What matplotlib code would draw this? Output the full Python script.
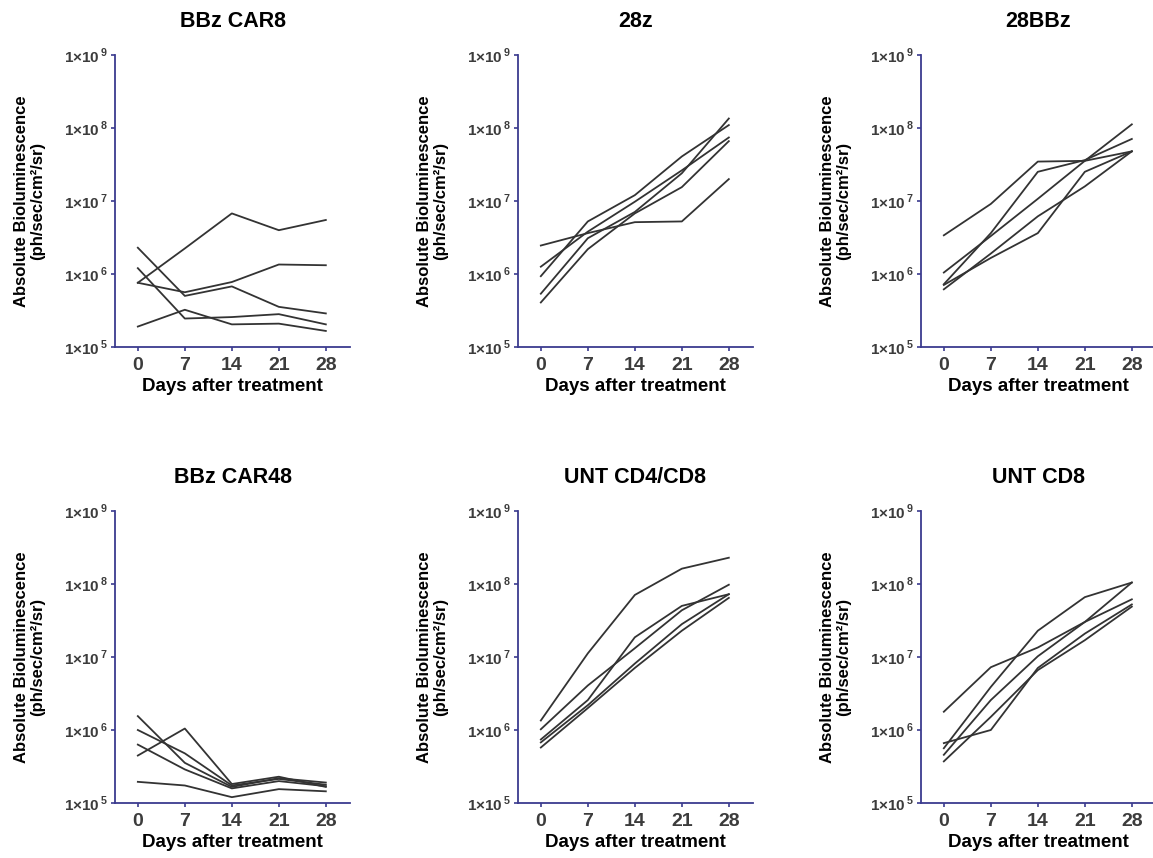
import matplotlib
matplotlib.use("Agg")
import matplotlib.pyplot as plt
import numpy as np

plt.rcParams["font.family"] = ["Liberation Sans", "DejaVu Sans"]
plt.rcParams["mathtext.fontset"] = "custom"
plt.rcParams["mathtext.rm"] = "Liberation Sans:bold"
plt.rcParams["mathtext.bf"] = "Liberation Sans:bold"

days = [0, 7, 14, 21, 28]

# log10 of absolute bioluminescence, one row per mouse
bbz_car8 = [
    [5.88, 6.35, 6.83, 6.60, 6.74],
    [5.88, 5.75, 5.89, 6.13, 6.12],
    [6.36, 5.70, 5.83, 5.55, 5.46],
    [6.08, 5.39, 5.41, 5.45, 5.31],
    [5.28, 5.51, 5.31, 5.32, 5.22],
]
car_28z = [
    [6.39, 6.56, 6.71, 6.72, 7.30],
    [6.10, 6.58, 6.99, 7.42, 7.87],
    [5.97, 6.72, 7.08, 7.61, 8.04],
    [5.73, 6.49, 6.85, 7.38, 8.13],
    [5.61, 6.34, 6.83, 7.19, 7.82],
]
car_28bbz = [
    [6.53, 6.96, 7.54, 7.55, 7.68],
    [6.02, 6.52, 7.03, 7.55, 8.05],
    [5.86, 6.56, 7.40, 7.56, 7.85],
    [5.85, 6.22, 6.56, 7.40, 7.68],
    [5.79, 6.28, 6.79, 7.20, 7.68],
]
bbz_car48 = [
    [6.19, 5.55, 5.22, 5.34, 5.28],
    [6.00, 5.68, 5.24, 5.33, 5.25],
    [5.80, 5.46, 5.20, 5.30, 5.23],
    [5.65, 6.02, 5.26, 5.36, 5.22],
    [5.29, 5.24, 5.08, 5.19, 5.16],
]
unt_cd4cd8 = [
    [6.13, 7.05, 7.85, 8.21, 8.36],
    [6.01, 6.61, 7.12, 7.64, 7.99],
    [5.87, 6.41, 7.27, 7.70, 7.86],
    [5.83, 6.34, 6.91, 7.45, 7.86],
    [5.76, 6.30, 6.85, 7.36, 7.81],
]
unt_cd8 = [
    [6.25, 6.86, 7.13, 7.48, 7.79],
    [5.82, 6.00, 6.85, 7.32, 7.72],
    [5.75, 6.59, 7.36, 7.82, 8.02],
    [5.66, 6.41, 7.01, 7.48, 8.02],
    [5.57, 6.18, 6.82, 7.23, 7.69],
]

titles = ["BBz CAR8", "28z", "28BBz", "BBz CAR48", "UNT CD4/CD8", "UNT CD8"]
groups = [bbz_car8, car_28z, car_28bbz, bbz_car48, unt_cd4cd8, unt_cd8]

W, H = 1153, 858
fig = plt.figure(figsize=(W / 100, H / 100), dpi=100)

lefts = [115, 518, 921]
tops = [55, 511]
ax_w = 235
ax_h = 292
axis_col = "#3b3b8f"
text_col = "#3c3c3c"

for i, (title, data) in enumerate(zip(titles, groups)):
    row, col = divmod(i, 3)
    ax = fig.add_axes([lefts[col] / W, 1 - (tops[row] + ax_h) / H, ax_w / W, ax_h / H])
    for series in data:
        ax.plot(days, 10 ** np.array(series), color="#333333", lw=1.3)
    ax.set_yscale("log")
    ax.set_ylim(1e5, 1e9)
    ax.set_xlim(-3.4, 31.6)
    ax.set_xticks(days)
    ax.set_xticklabels([str(d) for d in days], fontsize=14, fontweight="bold")
    ax.set_yticks([1e5, 1e6, 1e7, 1e8, 1e9])
    ax.set_yticklabels([r"$1{\times}10^{\,%d}$" % e for e in range(5, 10)], fontsize=11)
    ax.minorticks_off()
    ax.tick_params(axis="both", colors=axis_col, length=3, width=1.2)
    ax.tick_params(axis="y", pad=2)
    ax.tick_params(axis="x", pad=4)
    for lab in ax.get_xticklabels() + ax.get_yticklabels():
        lab.set_color(text_col)
    for s in ["top", "right"]:
        ax.spines[s].set_visible(False)
    for s in ["left", "bottom"]:
        ax.spines[s].set_color(axis_col)
        ax.spines[s].set_linewidth(1.3)
    ax.set_title(title, fontsize=15.5, fontweight="bold", pad=20)
    ax.set_xlabel("Days after treatment", fontsize=13.5, fontweight="bold", labelpad=3)
    ax.set_ylabel("Absolute Bioluminescence\n(ph/sec/cm\u00b2/sr)", fontsize=12,
                  fontweight="bold", labelpad=13.5, linespacing=1.15)

fig.savefig("out.png", dpi=100)
